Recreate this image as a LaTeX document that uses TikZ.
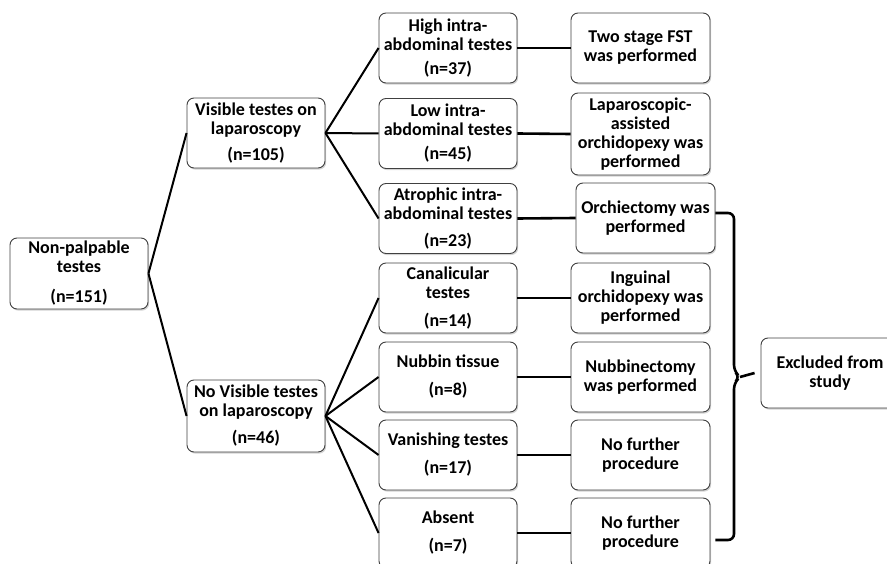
\documentclass[tikz,border=0pt]{standalone}
\usepackage{fontspec}
\setmainfont{Carlito}
\usetikzlibrary{shadows}
\begin{document}
\begin{tikzpicture}[x=1pt,y=-1pt,
  box/.style={draw=black!75, line width=0.9pt, rounded corners=7pt, fill=white,
    drop shadow={shadow xshift=1.2pt, shadow yshift=-1.6pt, opacity=0.35},
    minimum width=138pt, minimum height=70pt, align=center, inner sep=2pt,
    font=\fontsize{18}{19}\selectfont\bfseries},
  tree/.style={line width=2pt},
  link/.style={line width=2.6pt},
  bracepath/.style={line width=2.6pt, rounded corners=6pt}]
\useasboundingbox (0,0) rectangle (887,564);
% left
\node[box, minimum height=71pt] (np) at (79,273.5) {Non-palpable\\testes\\[11pt](n=151)};
\node[box] (vis) at (256,133) {Visible testes on\\laparoscopy\\[7pt](n=105)};
\node[box, minimum height=72pt] (novis) at (256,416) {No Visible testes\\on laparoscopy\\[8pt](n=46)};
% middle
\node[box] (high) at (448,48) {High intra-\\abdominal testes\\[5pt](n=37)};
\node[box] (low) at (448,133.5) {Low intra-\\abdominal testes\\[5pt](n=45)};
\node[box] (atro) at (448,218.5) {Atrophic intra-\\abdominal testes\\[8pt](n=23)};
\node[box] (cana) at (448,298) {Canalicular\\testes\\[9pt](n=14)};
\node[box] (nub) at (448,377) {Nubbin tissue\\[9pt](n=8)};
\node[box] (van) at (448,455) {Vanishing testes\\[9pt](n=17)};
\node[box] (abs) at (448,533) {Absent\\[9pt](n=7)};
% right
\node[box, minimum width=139pt] (fst) at (640.5,48) {Two stage FST\\was performed};
\node[box, minimum width=139pt, minimum height=82pt] (lap) at (640.5,134) {Laparoscopic-\\assisted\\orchidopexy was\\performed};
\node[box, minimum width=139pt] (orch) at (645.5,218) {Orchiectomy was\\performed};
\node[box, minimum width=139pt] (ing) at (640.5,298) {Inguinal\\orchidopexy was\\performed};
\node[box, minimum width=139pt] (nbe) at (640.5,377) {Nubbinectomy\\was performed};
\node[box, minimum width=139pt] (nf1) at (640.5,455) {No further\\procedure};
\node[box, minimum width=139pt] (nf2) at (640.5,533) {No further\\procedure};
\node[box] (ex) at (830,373) {Excluded from\\study};
% tree connectors
\draw[tree] (np.east) -- (vis.west);
\draw[tree] (np.east) -- (novis.west);
\draw[tree] (vis.east) -- (high.west);
\draw[tree] (vis.east) -- (low.west);
\draw[tree] (vis.east) -- (atro.west);
\draw[tree] (novis.east) -- (cana.west);
\draw[tree] (novis.east) -- (nub.west);
\draw[tree] (novis.east) -- (van.west);
\draw[tree] (novis.east) -- (abs.west);
% links
\draw[link] (high.east) -- (fst.west);
\draw[link] (low.east) -- (lap.west);
\draw[link] (atro.east) -- (orch.west);
\draw[link] (cana.east) -- (ing.west);
\draw[link] (nub.east) -- (nbe.west);
\draw[link] (van.east) -- (nf1.west);
\draw[link] (abs.east) -- (nf2.west);
% brace
\coordinate (btop) at ([yshift=5pt]orch.east);
\coordinate (bbot) at ([xshift=5pt,yshift=-7pt]nf2.east);
\coordinate (bmid) at (734,377);
\draw[bracepath] (btop) -- (734,213) -- (734,371) -- (740,377) -- (734,383) -- (734,540) -- (bbot);
\draw[link] (740,377) -- ([xshift=-6pt]ex.west);
\end{tikzpicture}
\end{document}
